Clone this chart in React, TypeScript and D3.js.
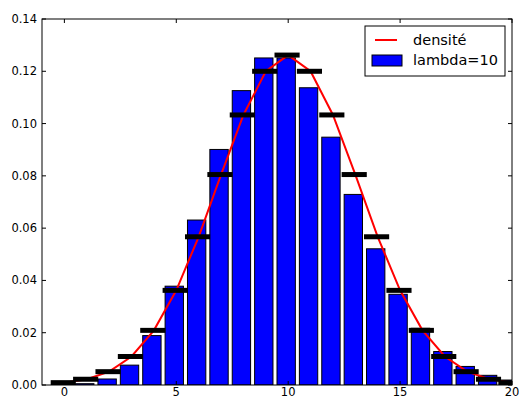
import React, { useEffect, useRef } from 'react'
import * as d3 from 'd3'

// valeurs k (0..20)
const ks = [0, 1, 2, 3, 4, 5, 6, 7, 8, 9, 10, 11, 12, 13, 14, 15, 16, 17, 18, 19, 20]

// fréquences des barres (lambda=10)
const barValues = [0.00005, 0.0005, 0.0023, 0.0076, 0.0189, 0.0378, 0.0631, 0.0901, 0.1126, 0.1251, 0.1251,
    0.1137, 0.0948, 0.0729, 0.0521, 0.0347, 0.0217, 0.0128, 0.0071, 0.0037, 0.0019]

// courbe densité (et segments noirs)
const densityValues = [0.0009, 0.0022, 0.0051, 0.0109, 0.0209, 0.0362, 0.0567, 0.0805, 0.1033, 0.12, 0.1262,
    0.12, 0.1033, 0.0805, 0.0567, 0.0362, 0.0209, 0.0109, 0.0051, 0.0022, 0.0009]

const xTicks = [0, 5, 10, 15, 20]
const yTicks = [0, 0.02, 0.04, 0.06, 0.08, 0.1, 0.12, 0.14]
const legendLabels = ['densité', 'lambda=10']

export default function App() {
    const svgRef = useRef<SVGSVGElement>(null)
    const width = 519
    const height = 399

    useEffect(() => {
        if (!svgRef.current) return
        const svg = d3.select(svgRef.current)
        svg.selectAll("*").remove()

        const margin = { top: 19, right: 7, bottom: 14, left: 42 }
        const innerWidth = width - margin.left - margin.right
        const innerHeight = height - margin.top - margin.bottom
        const font = "DejaVu Sans, sans-serif"

        const x = d3.scaleLinear().domain([-1, 20]).range([0, innerWidth])
        const y = d3.scaleLinear().domain([0, 0.14]).range([innerHeight, 0])

        svg.append("defs").append("clipPath").attr("id", "plot-clip")
            .append("rect").attr("width", innerWidth).attr("height", innerHeight)

        const g = svg.append("g").attr("transform", `translate(${margin.left},${margin.top})`)
        const plot = g.append("g").attr("clip-path", "url(#plot-clip)")

        const data = ks.map((k, i) => ({ k, bar: barValues[i], dens: densityValues[i] }))

        // Bars
        plot.selectAll(".bar").data(data).enter().append("rect")
            .attr("class", "bar")
            .attr("x", d => x(d.k - 0.5))
            .attr("width", x(0.82) - x(0))
            .attr("y", d => y(d.bar))
            .attr("height", d => y(0) - y(d.bar))
            .attr("fill", "#0000ff")
            .attr("stroke", "#000")
            .attr("stroke-width", 1)

        // Red density line
        const line = d3.line<typeof data[0]>().x(d => x(d.k)).y(d => y(d.dens))
        plot.append("path").datum(data)
            .attr("fill", "none")
            .attr("stroke", "#ff0000")
            .attr("stroke-width", 2)
            .attr("d", line)

        // Black segments
        plot.selectAll(".seg").data(data).enter().append("line")
            .attr("x1", d => x(d.k - 0.5))
            .attr("x2", d => x(d.k + 0.4))
            .attr("y1", d => y(d.dens))
            .attr("y2", d => y(d.dens))
            .attr("stroke", "#000")
            .attr("stroke-width", 5)
            .attr("stroke-linecap", "square")

        // Frame
        g.append("rect").attr("width", innerWidth).attr("height", innerHeight)
            .attr("fill", "none").attr("stroke", "#000").attr("stroke-width", 1)

        // Ticks (inside, all four sides)
        const tl = 4
        xTicks.forEach(t => {
            g.append("line").attr("x1", x(t)).attr("x2", x(t)).attr("y1", innerHeight).attr("y2", innerHeight - tl).attr("stroke", "#000")
            g.append("line").attr("x1", x(t)).attr("x2", x(t)).attr("y1", 0).attr("y2", tl).attr("stroke", "#000")
            g.append("text").attr("x", x(t)).attr("y", innerHeight + 11)
                .attr("text-anchor", "middle").attr("font-family", font).attr("font-size", 11.5)
                .text(String(t))
        })
        yTicks.forEach(t => {
            g.append("line").attr("x1", 0).attr("x2", tl).attr("y1", y(t)).attr("y2", y(t)).attr("stroke", "#000")
            g.append("line").attr("x1", innerWidth).attr("x2", innerWidth - tl).attr("y1", y(t)).attr("y2", y(t)).attr("stroke", "#000")
            g.append("text").attr("x", -5).attr("y", y(t)).attr("dy", "0.35em")
                .attr("text-anchor", "end").attr("font-family", font).attr("font-size", 11.5)
                .text(t.toFixed(2))
        })

        // Legend
        const lg = svg.append("g").attr("transform", "translate(365,26)")
        lg.append("rect").attr("width", 140).attr("height", 50)
            .attr("fill", "#fff").attr("stroke", "#000").attr("stroke-width", 1)
        lg.append("line").attr("x1", 10).attr("x2", 32).attr("y1", 14).attr("y2", 14)
            .attr("stroke", "#ff0000").attr("stroke-width", 2)
        lg.append("rect").attr("x", 7).attr("y", 29).attr("width", 30).attr("height", 11)
            .attr("fill", "#0000ff").attr("stroke", "#000").attr("stroke-width", 1)
        legendLabels.forEach((label, i) => {
            lg.append("text").attr("x", 48).attr("y", 14 + i * 20).attr("dy", "0.35em")
                .attr("font-family", font).attr("font-size", 14.5)
                .text(label)
        })
    }, [])

    return (
        <svg ref={svgRef} width={width} height={height}
            style={{ position: "absolute", left: 0, top: 0, background: "#fff" }} />
    )
}
